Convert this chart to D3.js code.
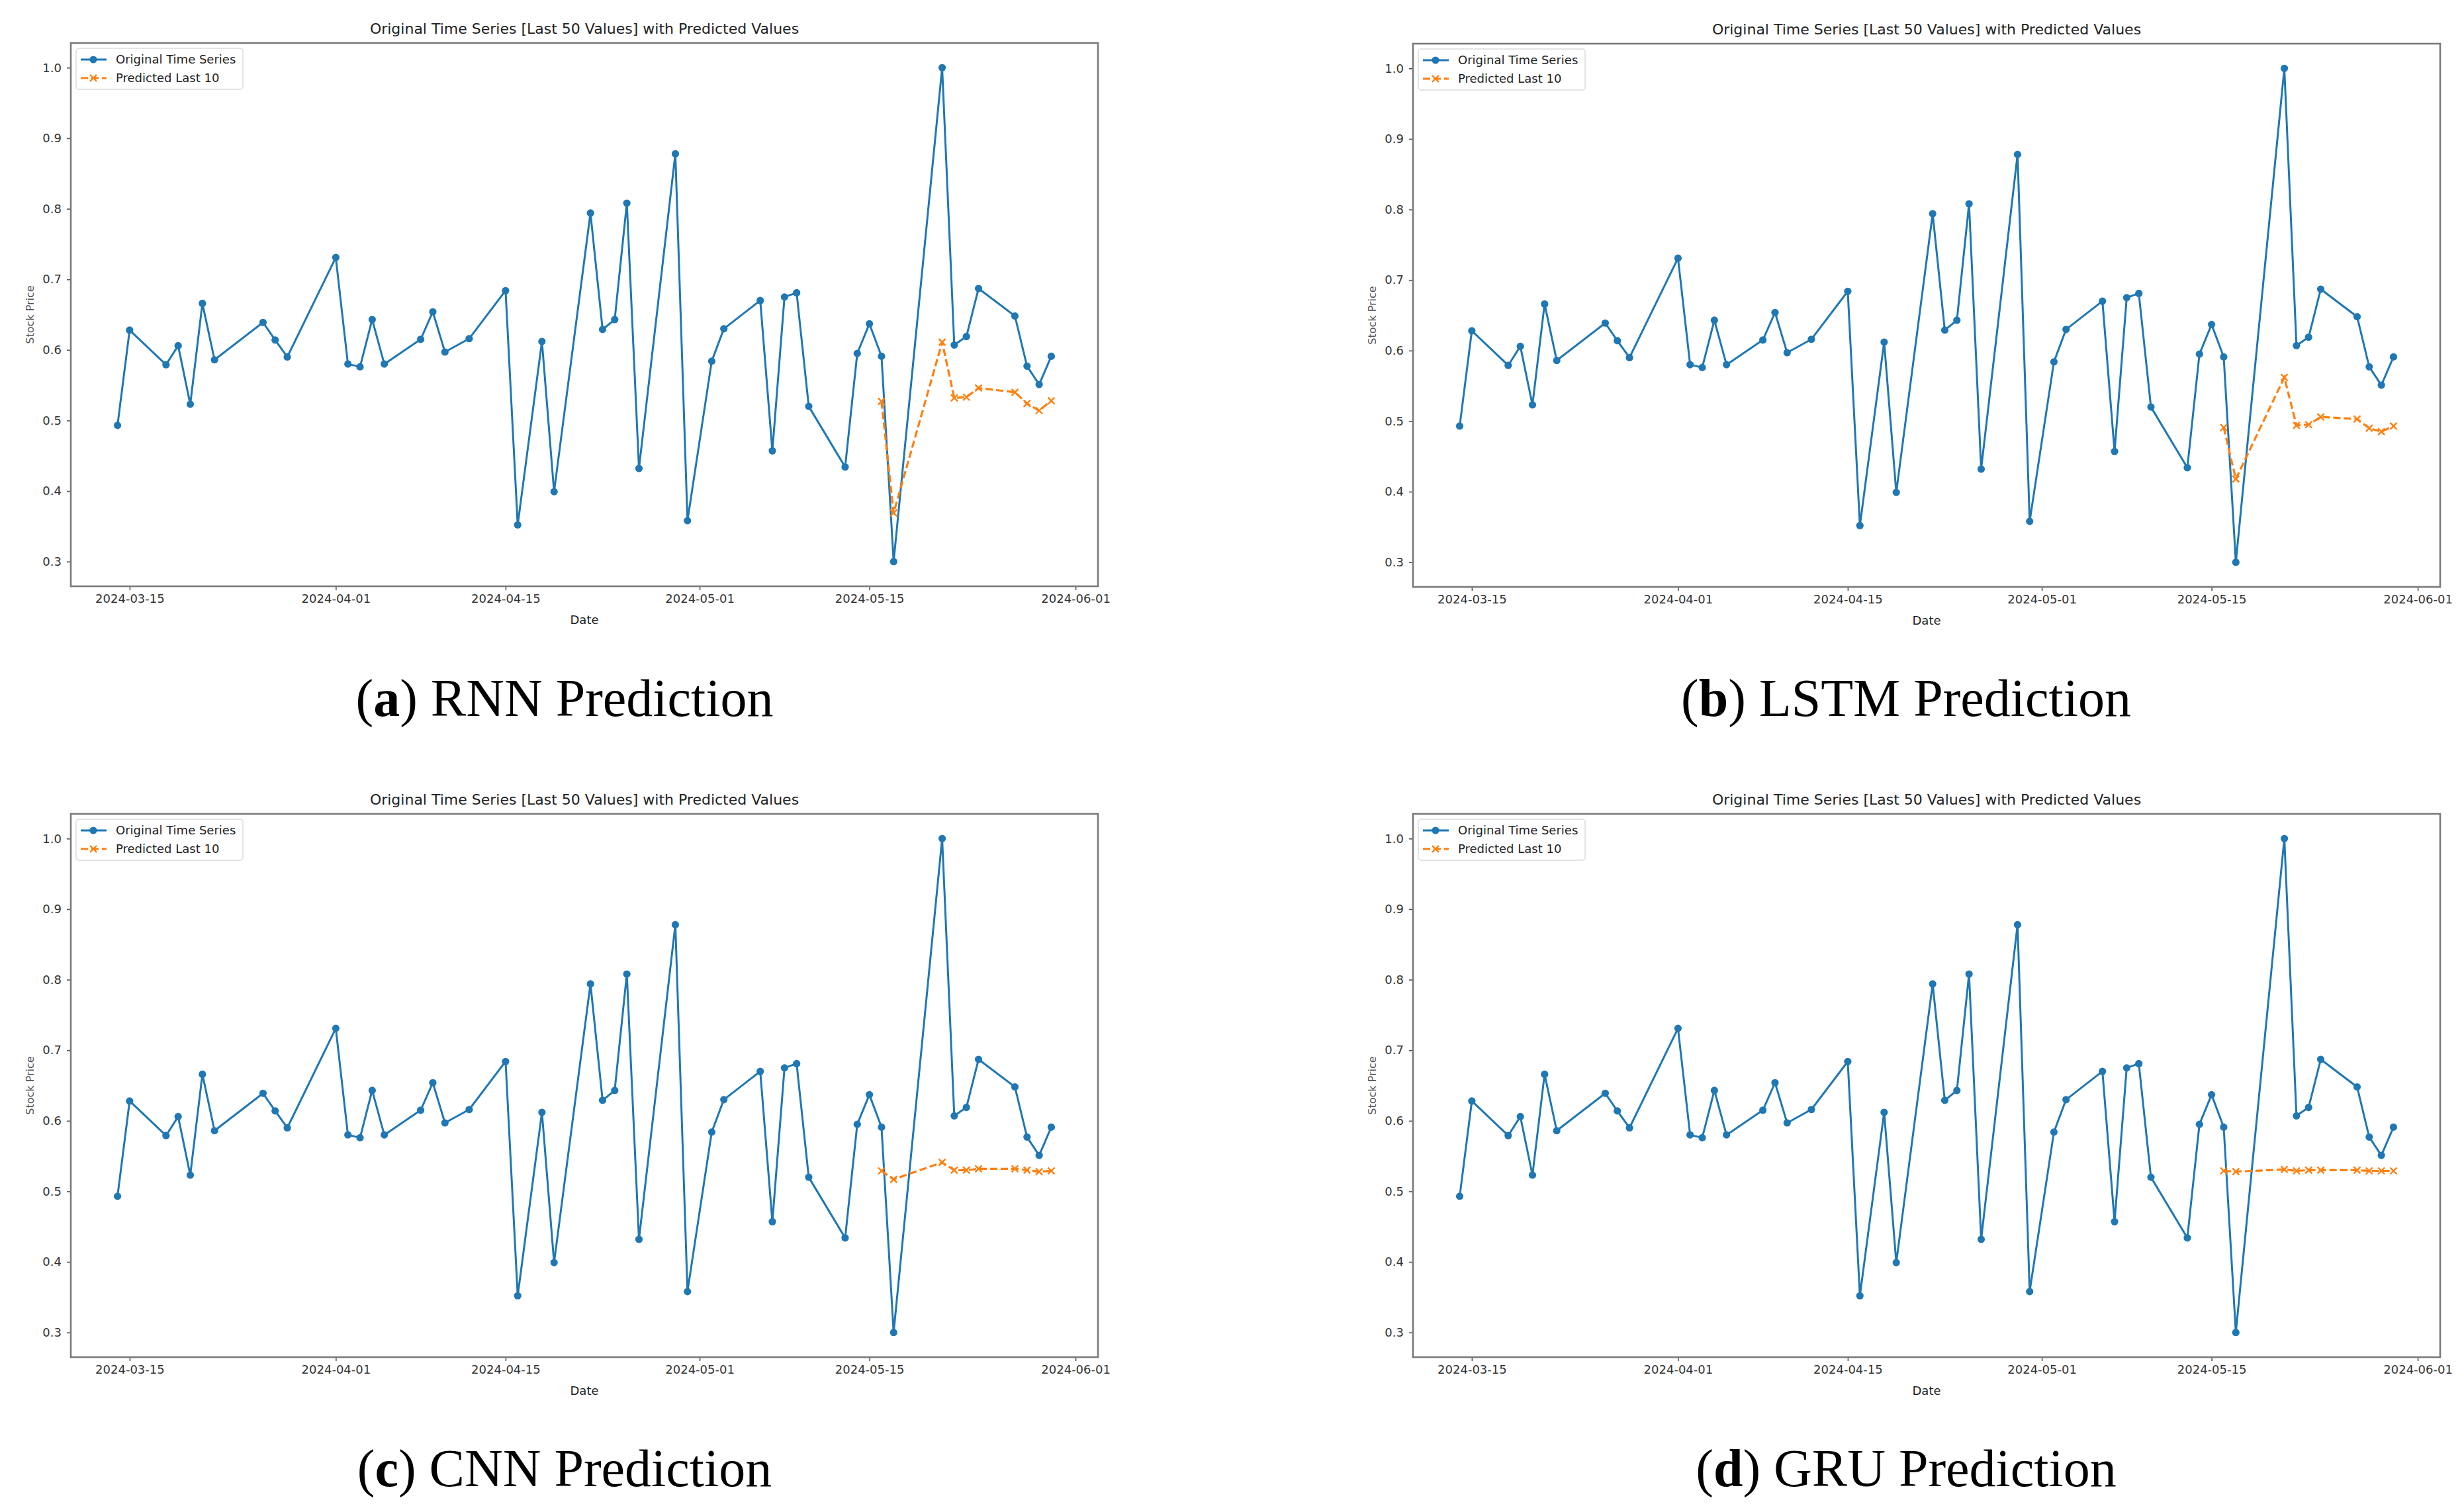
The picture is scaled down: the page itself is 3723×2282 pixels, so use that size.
<!DOCTYPE html>
<html>
<head>
<meta charset="utf-8">
<script src="https://cdn.jsdelivr.net/npm/d3@7"></script>
<style>
  html, body { margin: 0; padding: 0; background: #ffffff; }
  svg { display: block; }
</style>
</head>
<body>
<svg id="chart" width="3723" height="2282"></svg>
<script>
// ---------------- DATA ----------------
const dates = ["2024-03-14","2024-03-15","2024-03-18","2024-03-19","2024-03-20","2024-03-21","2024-03-22","2024-03-26","2024-03-27","2024-03-28",
  "2024-04-01","2024-04-02","2024-04-03","2024-04-04","2024-04-05","2024-04-08","2024-04-09","2024-04-10","2024-04-12","2024-04-15",
  "2024-04-16","2024-04-18","2024-04-19","2024-04-22","2024-04-23","2024-04-24","2024-04-25","2024-04-26","2024-04-29","2024-04-30",
  "2024-05-02","2024-05-03","2024-05-06","2024-05-07","2024-05-08","2024-05-09","2024-05-10","2024-05-13","2024-05-14","2024-05-15",
  "2024-05-16","2024-05-17","2024-05-21","2024-05-22","2024-05-23","2024-05-24","2024-05-27","2024-05-28","2024-05-29","2024-05-30"];
const original = [0.493,0.628,0.579,0.606,0.523,0.666,0.586,0.639,0.614,0.590,
  0.731,0.580,0.576,0.643,0.580,0.615,0.654,0.597,0.616,0.684,
  0.352,0.612,0.399,0.794,0.629,0.643,0.808,0.432,0.878,0.358,
  0.584,0.630,0.670,0.457,0.675,0.681,0.520,0.434,0.595,0.637,
  0.591,0.300,1.000,0.607,0.619,0.687,0.648,0.577,0.551,0.591];
const predDates = dates.slice(40);
const predRNN  = [0.527,0.369,0.611,0.532,0.533,0.546,0.540,0.524,0.514,0.528];
const predLSTM = [0.491,0.418,0.562,0.494,0.495,0.506,0.503,0.490,0.485,0.493];
const predCNN  = [0.529,0.517,0.541,0.530,0.530,0.532,0.532,0.530,0.528,0.529];
const predGRU  = [0.529,0.528,0.531,0.529,0.530,0.530,0.530,0.529,0.529,0.529];
const panelLetters = ["a","b","c","d"];
const panelNames = ["RNN Prediction","LSTM Prediction","CNN Prediction","GRU Prediction"];
const predictions = [predRNN, predLSTM, predCNN, predGRU];
const yTicks = [0.3,0.4,0.5,0.6,0.7,0.8,0.9,1.0];
const xTickDates = ["2024-03-15","2024-04-01","2024-04-15","2024-05-01","2024-05-15","2024-06-01"];
const titleText = "Original Time Series [Last 50 Values] with Predicted Values";
const legendLabels = ["Original Time Series","Predicted Last 10"];

// ---------------- LAYOUT ----------------
const parse = d3.utcParse("%Y-%m-%d");
const fmt = d3.utcFormat("%Y-%m-%d");
const BLUE = "#1f77b4", ORANGE = "#ff7f0e";
const FONT = "DejaVu Sans, Liberation Sans, sans-serif";
const panelPos = [
  {left:107, top:65, capX:853, capY:1082},
  {left:2135, top:66, capX:2880, capY:1082},
  {left:107, top:1230, capX:853, capY:2246},
  {left:2135, top:1230, capX:2880, capY:2246}
];
const W = 1552, H = 821;

const svg = d3.select("#chart");
svg.append("rect").attr("width",3723).attr("height",2282).attr("fill","#fff");

const dObj = dates.map(parse);
const dayMs = 86400000;
const xSpan = (dObj[dObj.length-1] - dObj[0]);
const xDomain = [new Date(+dObj[0] - 0.05*xSpan), new Date(+dObj[dObj.length-1] + 0.05*xSpan)];
const yMin = d3.min(original), yMax = d3.max(original);
const yPad = 0.05*(yMax - yMin);

panelPos.forEach((p, i) => {
  const g = svg.append("g").attr("transform", `translate(${p.left},${p.top})`);
  const x = d3.scaleUtc().domain(xDomain).range([0, W]);
  const y = d3.scaleLinear().domain([yMin - yPad, yMax + yPad]).range([H, 0]);

  // axes
  const xAxis = d3.axisBottom(x).tickValues(xTickDates.map(parse)).tickFormat(fmt).tickSize(6).tickPadding(6);
  const yAxis = d3.axisLeft(y).tickValues(yTicks).tickFormat(d3.format(".1f")).tickSize(6).tickPadding(8);
  const gx = g.append("g").attr("transform", `translate(0,${H})`).call(xAxis);
  const gy = g.append("g").call(yAxis);
  [gx, gy].forEach(a => {
    a.select(".domain").remove();
    a.selectAll(".tick line").attr("stroke","#555").attr("stroke-width",1.6);
    a.selectAll(".tick text").attr("fill","#333").attr("font-family",FONT).attr("font-size",18);
  });

  // frame
  g.append("rect").attr("x",0).attr("y",0).attr("width",W).attr("height",H)
    .attr("fill","none").attr("stroke","#7a7a7a").attr("stroke-width",2.6);

  // original series
  const pts = dObj.map((d,k) => ({d, v: original[k]}));
  const line = d3.line().x(q => x(q.d)).y(q => y(q.v));
  g.append("path").datum(pts).attr("d", line).attr("fill","none")
    .attr("stroke",BLUE).attr("stroke-width",3).attr("stroke-linejoin","round");
  g.selectAll("circle.orig").data(pts).enter().append("circle").attr("class","orig")
    .attr("cx", q => x(q.d)).attr("cy", q => y(q.v)).attr("r",5.6).attr("fill",BLUE);

  // prediction
  const pp = predDates.map((s,k) => ({d: parse(s), v: predictions[i][k]}));
  g.append("path").datum(pp).attr("d", line).attr("fill","none")
    .attr("stroke",ORANGE).attr("stroke-width",3.2).attr("stroke-dasharray","11,5");
  const xm = 5;
  g.selectAll("path.xm").data(pp).enter().append("path").attr("class","xm")
    .attr("d", q => { const cx = x(q.d), cy = y(q.v);
      return `M${cx-xm},${cy-xm}L${cx+xm},${cy+xm}M${cx-xm},${cy+xm}L${cx+xm},${cy-xm}`; })
    .attr("stroke",ORANGE).attr("stroke-width",2.4).attr("fill","none");

  // title
  g.append("text").attr("x", W/2).attr("y", -14).attr("text-anchor","middle")
    .attr("font-family",FONT).attr("font-size",22).attr("fill","#222").text(titleText);
  // axis labels
  g.append("text").attr("x", W/2).attr("y", H+57).attr("text-anchor","middle")
    .attr("font-family",FONT).attr("font-size",18).attr("fill","#222").text("Date");
  g.append("text").attr("transform", `translate(${-62},${H/2}) rotate(-90)`).attr("text-anchor","middle")
    .attr("dy","0.35em").attr("font-family",FONT).attr("font-size",16).attr("fill","#555").text("Stock Price");

  // legend
  const lg = g.append("g").attr("transform","translate(8,8)");
  lg.append("rect").attr("x",0).attr("y",0).attr("width",252).attr("height",62).attr("rx",4)
    .attr("fill","#fff").attr("fill-opacity",0.8).attr("stroke","#dcdcdc").attr("stroke-width",1.5);
  const r1 = 17, r2 = 45;
  lg.append("line").attr("x1",7).attr("x2",46).attr("y1",r1).attr("y2",r1).attr("stroke",BLUE).attr("stroke-width",3);
  lg.append("circle").attr("cx",26).attr("cy",r1).attr("r",5.6).attr("fill",BLUE);
  lg.append("line").attr("x1",7).attr("x2",46).attr("y1",r2).attr("y2",r2).attr("stroke",ORANGE)
    .attr("stroke-width",3.2).attr("stroke-dasharray","11,5");
  lg.append("path").attr("d",`M${26-xm},${r2-xm}L${26+xm},${r2+xm}M${26-xm},${r2+xm}L${26+xm},${r2-xm}`)
    .attr("stroke",ORANGE).attr("stroke-width",2.4);
  lg.selectAll("text.lt").data(legendLabels).enter().append("text").attr("class","lt")
    .attr("x",60).attr("y",(d,k) => k===0 ? r1 : r2).attr("dy","0.35em")
    .attr("font-family",FONT).attr("font-size",18).attr("fill","#222").text(d => d);

  // caption
  const cap = svg.append("text").attr("x", p.capX).attr("y", p.capY).attr("text-anchor","middle")
    .attr("font-family","Liberation Serif, DejaVu Serif, serif").attr("font-size",80).attr("fill","#000");
  cap.append("tspan").text("(");
  cap.append("tspan").attr("font-weight","bold").text(panelLetters[i]);
  cap.append("tspan").text(") " + panelNames[i]);
});
</script>
</body>
</html>
